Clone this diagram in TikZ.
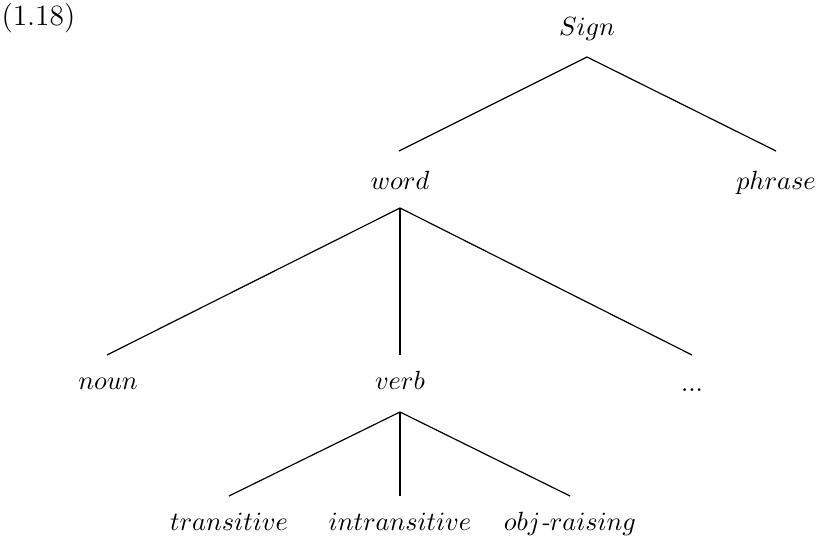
\documentclass[tikz,border=0pt]{standalone}
\begin{document}
\begin{tikzpicture}[x=0.38pt,y=-0.38pt,
  lbl/.style={inner sep=0pt,anchor=base,font=\normalsize},
  edge/.style={line width=0.45pt},
  vedge/.style={line width=0.8pt}]
\useasboundingbox (0,0) rectangle (819,542);
\node[inner sep=0pt,anchor=base west,font=\fontsize{11.2}{13}\selectfont] (num) at (1,26) {(1.18)};
% labels
\node[lbl] (sign) at (587,36) {$Sign$};
\node[lbl] (word) at (400,190) {$word$};
\node[lbl] (phrase) at (776,190) {$phrase$};
\node[lbl] (noun) at (108,390) {$noun$};
\node[lbl] (verb) at (400,390) {$verb$};
\node[lbl] (dots) at (692,392) {...};
\node[lbl] (trans) at (229,530) {$transitive$};
\node[lbl] (intrans) at (400,530) {$intransitive$};
\node[lbl] (objr) at (570,530) {$obj$\textit{-}$raising$};
% attachment points
\coordinate (sign-b) at (587,57);
\coordinate (word-t) at (399,151);
\coordinate (phrase-t) at (776,151);
\coordinate (word-b) at (400,208);
\coordinate (noun-t) at (107,355);
\coordinate (verb-t) at (400,355);
\coordinate (dots-t) at (692,355);
\coordinate (verb-b) at (400,412);
\coordinate (trans-t) at (229,496);
\coordinate (intrans-t) at (400,496);
\coordinate (objr-t) at (570,496);
% connectors
\draw[edge] (sign-b) -- (word-t);
\draw[edge] (sign-b) -- (phrase-t);
\draw[edge] (word-b) -- (noun-t);
\draw[vedge] (word-b) -- (verb-t);
\draw[edge] (word-b) -- (dots-t);
\draw[edge] (verb-b) -- (trans-t);
\draw[vedge] (verb-b) -- (intrans-t);
\draw[edge] (verb-b) -- (objr-t);
\end{tikzpicture}
\end{document}
